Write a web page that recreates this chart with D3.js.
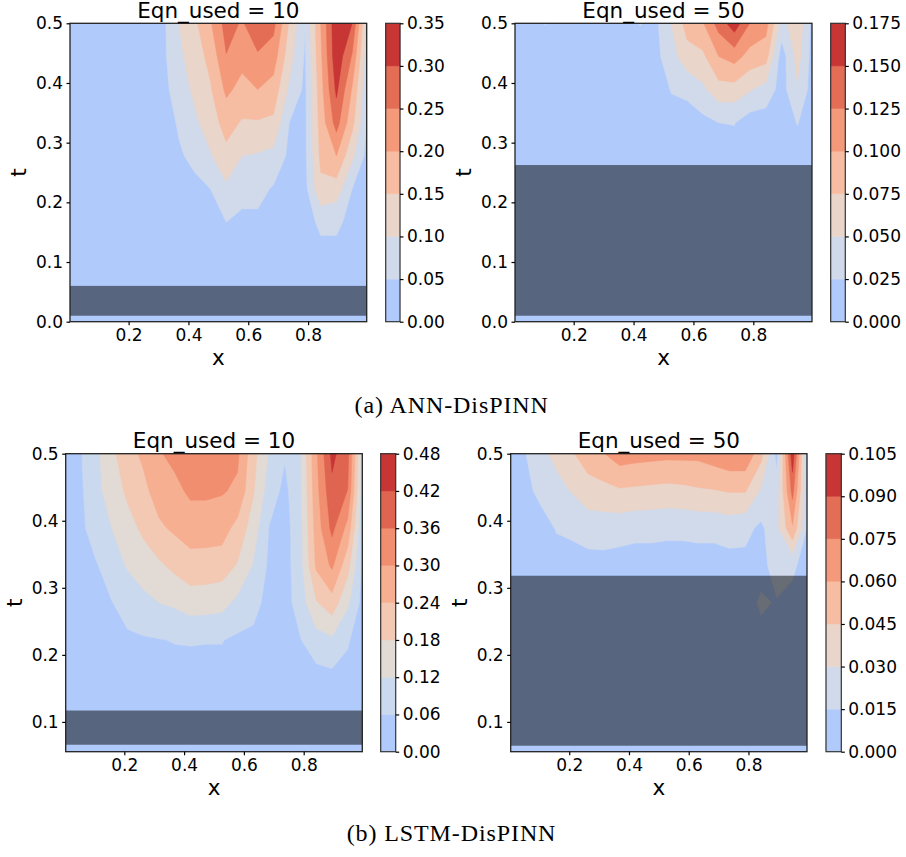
<!DOCTYPE html>
<html>
<head>
<meta charset="utf-8">
<title>Eqn_used contour maps</title>
<style>
  body { margin: 0; background: #fff; }
  svg text { font-family: "DejaVu Sans", sans-serif; fill: #000; }
  .tick text { font-size: 17px; }
  .tick line { stroke: #000; stroke-width: 1.2; }
  .title, .label { font-size: 21.5px; }
  .caption { font-family: "Liberation Serif", serif; font-size: 24px; letter-spacing: 0.9px; }
</style>
</head>
<body>
<svg id="fig" width="906" height="857"></svg>
<script src="https://d3js.org/d3.v7.min.js"></script>
<script>
// grid positions (x columns, t rows top first)
const xGrid = [0, 0.053, 0.105, 0.158, 0.211, 0.263, 0.316, 0.368, 0.421, 0.474,
               0.526, 0.579, 0.632, 0.684, 0.737, 0.789, 0.842, 0.895, 0.947, 1.0];
const tGrid = [0.5, 0.444, 0.389, 0.333, 0.278, 0.222, 0.167, 0.111, 0.056, 0];

// ANN-DisPINN, Eqn_used = 10
const ann10 = [
  [0.02,0.02,0.02,0.02,0.022,0.028,0.04,0.1,0.14,0.195,0.27,0.245,0.28,0.265,0.145,0.052,0.2,0.34,0.3,0.07],
  [0.02,0.02,0.02,0.02,0.02,0.026,0.04,0.09,0.125,0.165,0.248,0.215,0.245,0.225,0.12,0.045,0.19,0.335,0.245,0.06],
  [0.018,0.018,0.018,0.018,0.019,0.024,0.035,0.075,0.11,0.145,0.21,0.185,0.2,0.18,0.09,0.04,0.18,0.31,0.195,0.05],
  [0.016,0.016,0.016,0.016,0.017,0.021,0.03,0.055,0.09,0.125,0.17,0.145,0.145,0.14,0.05,0.04,0.17,0.27,0.165,0.04],
  [0.014,0.014,0.014,0.014,0.015,0.018,0.02,0.045,0.06,0.095,0.135,0.1,0.095,0.085,0.04,0.04,0.16,0.2,0.11,0.03],
  [0.012,0.012,0.012,0.012,0.013,0.015,0.015,0.035,0.04,0.05,0.09,0.065,0.065,0.045,0.03,0.035,0.14,0.125,0.05,0.02],
  [0.01,0.01,0.01,0.01,0.011,0.012,0.012,0.025,0.03,0.035,0.05,0.04,0.04,0.035,0.025,0.03,0.06,0.06,0.035,0.015],
  [0.01,0.01,0.01,0.01,0.01,0.01,0.01,0.02,0.02,0.025,0.03,0.025,0.025,0.025,0.02,0.02,0.035,0.035,0.025,0.01],
  [0.01,0.01,0.01,0.01,0.01,0.01,0.01,0.015,0.015,0.015,0.02,0.015,0.015,0.015,0.015,0.015,0.02,0.02,0.015,0.01],
  [0.01,0.01,0.01,0.01,0.01,0.01,0.01,0.01,0.01,0.01,0.01,0.01,0.01,0.01,0.01,0.01,0.01,0.01,0.01,0.01]
];

// ANN-DisPINN, Eqn_used = 50
const ann50 = [
  [0.01,0.012,0.026,0.012,0.012,0.012,0.012,0.012,0.026,0.02,0.05,0.085,0.098,0.135,0.165,0.124,0.11,0.04,0.068,0.015],
  [0.01,0.011,0.012,0.011,0.011,0.011,0.011,0.011,0.013,0.018,0.04,0.065,0.07,0.1,0.11,0.09,0.085,0.012,0.06,0.013],
  [0.009,0.01,0.01,0.01,0.01,0.01,0.01,0.01,0.011,0.015,0.026,0.03,0.045,0.065,0.065,0.052,0.04,0.015,0.048,0.012],
  [0.008,0.009,0.009,0.009,0.009,0.009,0.009,0.009,0.01,0.012,0.018,0.015,0.018,0.025,0.026,0.012,0.013,0.012,0.026,0.011],
  [0.008,0.008,0.008,0.008,0.008,0.008,0.008,0.008,0.009,0.01,0.012,0.012,0.013,0.015,0.014,0.011,0.012,0.011,0.015,0.01],
  [0.007,0.007,0.007,0.007,0.007,0.007,0.007,0.007,0.008,0.009,0.01,0.01,0.011,0.012,0.012,0.01,0.01,0.01,0.012,0.009],
  [0.007,0.007,0.007,0.007,0.007,0.007,0.007,0.007,0.007,0.008,0.009,0.009,0.009,0.01,0.01,0.009,0.009,0.009,0.01,0.008],
  [0.006,0.006,0.006,0.006,0.006,0.006,0.006,0.006,0.006,0.007,0.008,0.008,0.008,0.008,0.008,0.008,0.008,0.008,0.008,0.007],
  [0.006,0.006,0.006,0.006,0.006,0.006,0.006,0.006,0.006,0.006,0.007,0.007,0.007,0.007,0.007,0.007,0.007,0.007,0.007,0.006],
  [0.006,0.006,0.006,0.006,0.006,0.006,0.006,0.006,0.006,0.006,0.006,0.006,0.006,0.006,0.006,0.006,0.006,0.006,0.006,0.006]
];

// LSTM-DisPINN, Eqn_used = 10
const lstm10 = [
  [0.04,0.055,0.105,0.165,0.22,0.25,0.295,0.315,0.33,0.33,0.33,0.31,0.2,0.115,0.065,0.115,0.29,0.435,0.38,0.07],
  [0.035,0.05,0.1,0.15,0.19,0.225,0.265,0.285,0.31,0.31,0.305,0.29,0.185,0.09,0.045,0.11,0.28,0.405,0.358,0.06],
  [0.03,0.045,0.09,0.12,0.16,0.19,0.23,0.25,0.27,0.27,0.265,0.22,0.15,0.058,0.035,0.105,0.265,0.375,0.28,0.05],
  [0.025,0.035,0.055,0.09,0.125,0.155,0.17,0.195,0.215,0.213,0.21,0.175,0.115,0.05,0.035,0.1,0.25,0.31,0.2,0.04],
  [0.02,0.03,0.04,0.058,0.085,0.1,0.12,0.13,0.15,0.148,0.14,0.105,0.075,0.045,0.035,0.09,0.175,0.215,0.13,0.035],
  [0.018,0.02,0.03,0.045,0.05,0.055,0.058,0.062,0.063,0.062,0.062,0.05,0.05,0.04,0.035,0.058,0.095,0.11,0.065,0.03],
  [0.015,0.015,0.02,0.03,0.04,0.045,0.045,0.045,0.045,0.045,0.045,0.04,0.04,0.035,0.03,0.045,0.04,0.045,0.045,0.025],
  [0.012,0.01,0.015,0.02,0.03,0.03,0.03,0.03,0.03,0.03,0.03,0.03,0.03,0.025,0.025,0.03,0.03,0.035,0.035,0.02],
  [0.01,0.01,0.01,0.015,0.02,0.02,0.02,0.02,0.02,0.02,0.02,0.02,0.02,0.02,0.02,0.02,0.02,0.025,0.02,0.015],
  [0.01,0.01,0.01,0.01,0.01,0.015,0.015,0.015,0.015,0.015,0.015,0.015,0.015,0.015,0.015,0.015,0.015,0.015,0.015,0.01]
];

// LSTM-DisPINN, Eqn_used = 50
const lstm50 = [
  [0.012,0.0145,0.026,0.034,0.044,0.051,0.0595,0.068,0.066,0.065,0.064,0.064,0.064,0.068,0.072,0.072,0.05,0.01,0.1,0.005],
  [0.011,0.013,0.017,0.025,0.031,0.04,0.04,0.043,0.042,0.041,0.04,0.041,0.043,0.044,0.046,0.046,0.028,0.022,0.08,0.01],
  [0.01,0.011,0.012,0.0155,0.017,0.02,0.022,0.021,0.019,0.019,0.018,0.018,0.019,0.019,0.021,0.019,0.012,0.026,0.058,0.011],
  [0.009,0.009,0.01,0.012,0.011,0.011,0.01,0.009,0.009,0.009,0.009,0.009,0.009,0.009,0.01,0.011,0.01,0.022,0.017,0.01],
  [0.008,0.008,0.009,0.01,0.01,0.01,0.009,0.009,0.009,0.009,0.009,0.009,0.009,0.009,0.009,0.009,0.017,0.014,0.012,0.009],
  [0.007,0.007,0.008,0.009,0.009,0.009,0.008,0.008,0.008,0.008,0.008,0.008,0.008,0.008,0.008,0.009,0.011,0.012,0.01,0.008],
  [0.006,0.006,0.007,0.008,0.008,0.008,0.008,0.008,0.008,0.008,0.008,0.008,0.008,0.008,0.008,0.008,0.009,0.01,0.009,0.007],
  [0.006,0.006,0.006,0.007,0.007,0.007,0.007,0.007,0.007,0.007,0.007,0.007,0.007,0.007,0.007,0.007,0.008,0.008,0.008,0.006],
  [0.005,0.005,0.006,0.006,0.006,0.006,0.006,0.006,0.006,0.006,0.006,0.006,0.006,0.006,0.006,0.006,0.007,0.007,0.007,0.006],
  [0.005,0.005,0.005,0.005,0.005,0.005,0.005,0.005,0.005,0.005,0.005,0.005,0.005,0.005,0.005,0.005,0.006,0.006,0.006,0.005]
];

// contour levels = colorbar ticks
const levelsAnn10 = [0, 0.05, 0.10, 0.15, 0.20, 0.25, 0.30, 0.35];
const levelsAnn50 = [0, 0.025, 0.050, 0.075, 0.100, 0.125, 0.150, 0.175];
const levelsLstm10 = [0, 0.06, 0.12, 0.18, 0.24, 0.30, 0.36, 0.42, 0.48];
const levelsLstm50 = [0, 0.015, 0.030, 0.045, 0.060, 0.075, 0.090, 0.105];

// masked t-span drawn over each map
const maskAnn10 = [0.01, 0.06];
const maskAnn50 = [0.01, 0.2625];
const maskLstm10 = [0.066, 0.117];
const maskLstm50 = [0.0645, 0.318];

const xTicks = [0.2, 0.4, 0.6, 0.8];
const tTicksAnn = [0, 0.1, 0.2, 0.3, 0.4, 0.5];
const tTicksLstm = [0.1, 0.2, 0.3, 0.4, 0.5];

// coolwarm colormap table
const coolwarmTable = ["#3b4cc0","#445acc","#4d68d7","#5775e1","#6282ea","#6c8ef1","#779af7","#82a5fb",
  "#8db0fe","#98b9ff","#a3c2ff","#aec9fd","#b8d0f9","#c2d5f4","#ccd9ee","#d5dbe6","#dddddd","#e5d8d1",
  "#ecd3c5","#f1ccb9","#f5c4ad","#f7bba0","#f7b194","#f7a687","#f49a7b","#f18d6f","#ec7f63","#e57058",
  "#de604d","#d55042","#cb3e38","#c0282f","#b40426"];
const coolwarm = d3.piecewise(d3.interpolateRgb, coolwarmTable);

const svg = d3.select("#fig");

const panels = [
  {id: "a1", grid: ann10, levels: levelsAnn10, mask: maskAnn10, fmt: ".2f", title: "Eqn_used = 10",
   tDomain: [0, 0.5], tTicks: tTicksAnn, box: {x0: 70, x1: 366.7, y0: 23.3, y1: 321.7, c0: 385.7, c1: 400}},
  {id: "a2", grid: ann50, levels: levelsAnn50, mask: maskAnn50, fmt: ".3f", title: "Eqn_used = 50",
   tDomain: [0, 0.5], tTicks: tTicksAnn, box: {x0: 515, x1: 812, y0: 23.3, y1: 321.7, c0: 830.7, c1: 845.3}},
  {id: "b1", grid: lstm10, levels: levelsLstm10, mask: maskLstm10, fmt: ".2f", title: "Eqn_used = 10",
   tDomain: [0.0556, 0.5], tTicks: tTicksLstm, box: {x0: 65.7, x1: 362.3, y0: 453.7, y1: 751.7, c0: 380.7, c1: 395.7}},
  {id: "b2", grid: lstm50, levels: levelsLstm50, mask: maskLstm50, fmt: ".3f", title: "Eqn_used = 50",
   tDomain: [0.0556, 0.5], tTicks: tTicksLstm, box: {x0: 510.7, x1: 807, y0: 453.7, y1: 751.7, c0: 826, c1: 841.3}}
];

panels.forEach(p => {
  const b = p.box;
  const nx = xGrid.length, ny = tGrid.length;
  const x = d3.scaleLinear().domain([0.004, 0.996]).range([b.x0, b.x1]);
  const y = d3.scaleLinear().domain(p.tDomain).range([b.y1, b.y0]);
  // grid index -> data coordinate (cell centres sit at index + 0.5)
  const gx = d3.scaleLinear().domain([0.5, nx - 0.5]).range([xGrid[0], xGrid[nx - 1]]);
  const gy = d3.scaleLinear().domain([0.5, ny - 0.5]).range([tGrid[0], tGrid[ny - 1]]);
  const path = d3.geoPath(d3.geoTransform({
    point(px, py) { this.stream.point(x(gx(px)), y(gy(py))); }
  }));

  const bands = p.levels.slice(0, -1);
  const colors = bands.map((_, i) => coolwarm(0.35 + 0.6 * i / (bands.length - 1)));
  const polys = d3.contours().size([nx, ny]).thresholds(bands)(p.grid.flat());

  svg.append("clipPath").attr("id", "clip-" + p.id)
    .append("rect").attr("x", b.x0).attr("y", b.y0).attr("width", b.x1 - b.x0).attr("height", b.y1 - b.y0);

  const g = svg.append("g").attr("clip-path", `url(#clip-${p.id})`);
  g.selectAll("path").data(polys).enter().append("path")
    .attr("d", path)
    .attr("fill", (d, i) => colors[i])
    .attr("stroke", (d, i) => colors[i])
    .attr("stroke-width", 0.5);

  g.append("rect")
    .attr("x", b.x0).attr("width", b.x1 - b.x0)
    .attr("y", y(p.mask[1])).attr("height", y(p.mask[0]) - y(p.mask[1]))
    .attr("fill", "#000").attr("fill-opacity", 0.5);

  svg.append("rect").attr("x", b.x0).attr("y", b.y0)
    .attr("width", b.x1 - b.x0).attr("height", b.y1 - b.y0)
    .attr("fill", "none").attr("stroke", "#222").attr("stroke-width", 1.3);

  svg.append("g").attr("transform", `translate(0,${b.y1})`)
    .call(d3.axisBottom(x).tickValues(xTicks).tickFormat(d3.format(".1f")).tickSize(3.5).tickPadding(3.5))
    .call(a => a.select(".domain").remove());
  svg.append("g").attr("transform", `translate(${b.x0},0)`)
    .call(d3.axisLeft(y).tickValues(p.tTicks).tickFormat(d3.format(".1f")).tickSize(3.5).tickPadding(3.5))
    .call(a => a.select(".domain").remove());

  svg.append("text").attr("class", "title")
    .attr("x", (b.x0 + b.x1) / 2).attr("y", b.y0 - 5.4)
    .attr("text-anchor", "middle").text(p.title);
  svg.append("text").attr("class", "label")
    .attr("x", (b.x0 + b.x1) / 2).attr("y", b.y1 + 43)
    .attr("text-anchor", "middle").text("x");
  svg.append("text").attr("class", "label")
    .attr("transform", `translate(${b.x0 - 44},${(b.y0 + b.y1) / 2}) rotate(-90)`)
    .attr("text-anchor", "middle").text("t");

  // colorbar
  const cb = d3.scaleLinear().domain([p.levels[0], p.levels[p.levels.length - 1]]).range([b.y1, b.y0]);
  svg.append("g").selectAll("rect").data(bands).enter().append("rect")
    .attr("x", b.c0).attr("width", b.c1 - b.c0)
    .attr("y", (d, i) => cb(p.levels[i + 1]))
    .attr("height", (d, i) => cb(p.levels[i]) - cb(p.levels[i + 1]))
    .attr("fill", (d, i) => colors[i]).attr("stroke", (d, i) => colors[i]).attr("stroke-width", 0.5);
  svg.append("rect").attr("x", b.c0).attr("y", b.y0)
    .attr("width", b.c1 - b.c0).attr("height", b.y1 - b.y0)
    .attr("fill", "none").attr("stroke", "#333").attr("stroke-width", 1.2);
  svg.append("g").attr("transform", `translate(${b.c1},0)`)
    .call(d3.axisRight(cb).tickValues(p.levels).tickFormat(d3.format(p.fmt)).tickSize(3.5).tickPadding(3.5))
    .call(a => a.select(".domain").remove());
});

svg.selectAll(".tick text").attr("font-family", null).attr("font-size", null);

svg.append("text").attr("class", "caption").attr("x", 451.7).attr("y", 413)
  .attr("text-anchor", "middle").text("(a) ANN-DisPINN");
svg.append("text").attr("class", "caption").attr("x", 451.5).attr("y", 840.7)
  .attr("text-anchor", "middle").text("(b) LSTM-DisPINN");
</script>
</body>
</html>
